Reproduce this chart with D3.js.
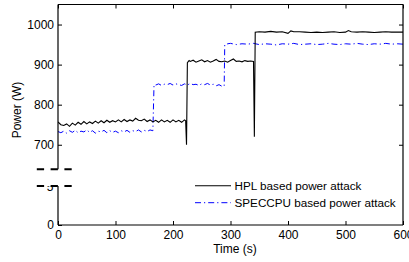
<!DOCTYPE html>
<html><head><meta charset="utf-8">
<script src="https://cdn.jsdelivr.net/npm/d3@7"></script>
<style>body{margin:0;background:#fff}svg{display:block}text{font-family:"Liberation Sans",Arial,Helvetica,sans-serif}</style>
</head><body>
<svg id="c" width="409" height="262"></svg>
<script>
// ---- data ----
const xTicks = [0, 100, 200, 300, 400, 500, 600];
const yTicksUpper = [700, 800, 900, 1000];
const yTicksLower = [0];
const seriesNames = ["HPL based power attack", "SPECCPU based power attack"];

const hplTime = [0,5,10,15,20,25,30,35,40,45,50,55,60,65,70,75,80,85,90,95,100,105,110,115,120,125,130,135,140,145,150,155,160,165,170,175,180,185,190,195,200,205,210,215,220,222,223.5,225,228,
  230,235,240,245,250,255,260,265,270,275,280,285,290,295,300,305,310,315,320,325,330,335,340,341.5,343,
  350,360,370,380,390,400,405,410,420,430,440,450,460,470,480,490,500,505,510,520,530,540,550,560,570,580,590,600];
const hplPower = [757,750,748,752,746,754,749,756,751,758,752,757,753,759,754,760,755,761,756,760,757,762,757,763,758,762,759,766,761,760,764,758,762,757,761,756,762,757,761,756,762,757,761,756,762,760,700,905,910,
  908,911,906,909,912,907,910,906,909,913,908,907,909,906,910,914,908,909,907,910,908,909,908,720,981,
  982,981,983,981,982,978,984,982,982,981,980,981,980,981,982,980,981,985,982,981,982,981,980,981,982,981,981,981];

const specTime = [0,5,10,15,20,25,30,35,40,45,50,55,60,65,70,75,80,85,90,95,100,105,110,115,120,125,130,135,140,145,150,155,160,165,167,
  170,175,180,185,190,195,200,205,210,215,220,225,230,235,240,245,250,255,260,265,270,275,280,285,289,290,
  292,295,300,310,320,330,340,350,360,370,380,390,400,410,420,430,440,450,460,470,480,490,500,510,520,530,540,550,560,570,580,590,600];
const specPower = [733,730,734,729,735,731,736,730,734,732,737,731,735,729,734,732,736,730,735,731,734,730,735,732,736,731,735,733,737,732,736,733,737,735,850,
  849,852,848,851,850,853,849,852,850,848,852,849,853,850,851,848,852,850,853,849,851,847,850,846,846,950,
  949,952,953,950,952,951,953,950,952,951,949,952,951,953,950,951,952,950,951,953,951,950,952,951,953,951,950,952,951,953,951,952,951];

// ---- layout ----
const svg = d3.select("#c");
const L = 58, R = 403, T = 4.5, B = 225;
const breakTop = 169.3, breakBot = 186;
const x = d3.scaleLinear().domain([0, 600]).range([L, R]);
const yU = d3.scaleLinear().domain([640, 1050]).range([168.8, 4.5]);
const yL = d3.scaleLinear().domain([0, 100]).range([B, 185]);
const fs = "12px";
const fmt = d3.format("d");

svg.append("defs").append("clipPath").attr("id", "clipU")
  .append("rect").attr("x", L).attr("y", T).attr("width", R - L).attr("height", breakTop - T);

// partially hidden label inside the break
svg.append("text").attr("x", 53.5).attr("y", 191).attr("text-anchor", "end")
  .style("font-size", fs).text("5");
svg.append("rect").attr("x", 30).attr("y", 170.5).attr("width", 45).attr("height", 15.5).attr("fill", "#fff");

// lines
const hplData = hplTime.map((t, i) => [t, hplPower[i]]);
const specData = specTime.map((t, i) => [t, specPower[i]]);
const line = d3.line().x(d => x(d[0])).y(d => yU(d[1]));
const g = svg.append("g").attr("clip-path", "url(#clipU)");
g.append("path").datum(specData).attr("d", line).attr("fill", "none")
  .attr("stroke", "#0000ff").attr("stroke-width", 1).attr("stroke-dasharray", "6,3,1.2,3");
g.append("path").datum(hplData).attr("d", line).attr("fill", "none")
  .attr("stroke", "#000").attr("stroke-width", 1.1);

// axes
function styleAxis(sel) {
  sel.select(".domain").remove();
  sel.selectAll(".tick line").attr("stroke", "#000").attr("stroke-width", 1);
  sel.selectAll(".tick text").style("font-size", fs).attr("fill", "#000")
    .style("font-family", '"Liberation Sans",Arial,sans-serif');
}
svg.append("g").attr("transform", `translate(${L},0)`)
  .call(d3.axisLeft(yU).tickValues(yTicksUpper).tickFormat(fmt).tickSize(-4).tickPadding(4)).call(styleAxis);
svg.append("g").attr("transform", `translate(${L},0)`)
  .call(d3.axisLeft(yL).tickValues(yTicksLower).tickFormat(fmt).tickSize(-4).tickPadding(4)).call(styleAxis);
svg.append("g").attr("transform", `translate(0,${B})`)
  .call(d3.axisBottom(x).tickValues(xTicks).tickFormat(fmt).tickSize(-4).tickPadding(5)).call(styleAxis);
svg.append("g").attr("transform", `translate(0,${T})`)
  .call(d3.axisTop(x).tickValues(xTicks).tickSize(-4).tickFormat("")).call(styleAxis);
svg.append("g").attr("transform", `translate(${R},0)`)
  .call(d3.axisRight(yU).tickValues(yTicksUpper).tickSize(-4).tickFormat("")).call(styleAxis);

// frame
const fr = svg.append("g").attr("stroke", "#000").attr("stroke-width", 1.2).attr("fill", "none");
fr.append("line").attr("x1", L).attr("x2", R).attr("y1", T).attr("y2", T);
fr.append("line").attr("x1", L).attr("x2", R).attr("y1", B).attr("y2", B);
fr.append("line").attr("x1", R).attr("x2", R).attr("y1", T).attr("y2", B);
fr.append("line").attr("x1", L).attr("x2", L).attr("y1", T).attr("y2", breakTop);
fr.append("line").attr("x1", L).attr("x2", L).attr("y1", breakBot).attr("y2", B);

// break marks
[breakTop, breakBot].forEach(yy => {
  svg.append("line").attr("x1", 36.8).attr("x2", 72).attr("y1", yy).attr("y2", yy)
    .attr("stroke", "#000").attr("stroke-width", 2).attr("stroke-dasharray", "7.3,6.5");
});

// axis labels
svg.append("text").attr("transform", "translate(20.5,110) rotate(-90)")
  .attr("text-anchor", "middle").style("font-size", fs).text("Power (W)");
svg.append("text").attr("x", 235).attr("y", 253).attr("text-anchor", "middle")
  .style("font-size", fs).text("Time (s)");

// legend
const leg = [{name: seriesNames[0], y: 185.7, color: "#000", dash: null, w: 1.1},
             {name: seriesNames[1], y: 202.7, color: "#0000ff", dash: "6,3,1.2,3", w: 1}];
leg.forEach(d => {
  svg.append("line").attr("x1", 195).attr("x2", 231).attr("y1", d.y).attr("y2", d.y)
    .attr("stroke", d.color).attr("stroke-width", d.w).attr("stroke-dasharray", d.dash);
  svg.append("text").attr("x", 234.5).attr("y", d.y + 4.1).style("font-size", "11.7px").text(d.name);
});
</script>
</body></html>
